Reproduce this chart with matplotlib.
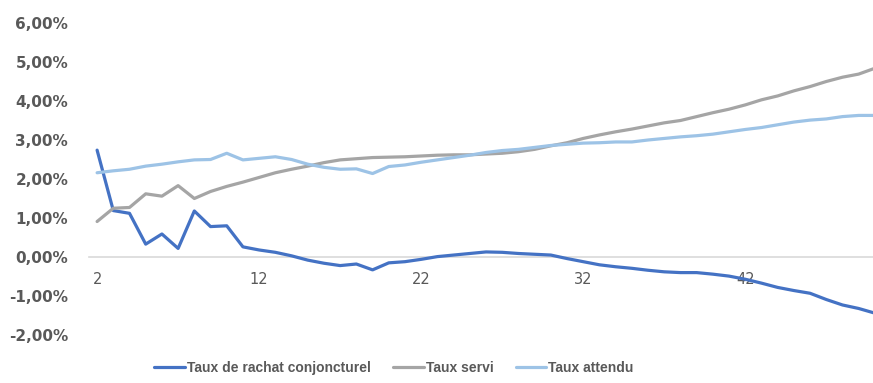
import matplotlib.pyplot as plt
import numpy as np

# horizon (categories)
annees = list(range(2, 51))

taux_rachat = [2.74, 1.19, 1.12, 0.33, 0.59, 0.22, 1.18, 0.78, 0.80, 0.26,
               0.18, 0.12, 0.03, -0.08, -0.16, -0.22, -0.18, -0.33, -0.15, -0.12,
               -0.06, 0.01, 0.05, 0.09, 0.13, 0.12, 0.09, 0.07, 0.05, -0.04,
               -0.12, -0.20, -0.25, -0.29, -0.34, -0.38, -0.40, -0.40, -0.44, -0.49,
               -0.57, -0.67, -0.78, -0.86, -0.93, -1.09, -1.23, -1.32, -1.44]

taux_servi = [0.91, 1.25, 1.27, 1.62, 1.56, 1.83, 1.50, 1.68, 1.81, 1.92,
              2.04, 2.16, 2.25, 2.33, 2.42, 2.49, 2.52, 2.55, 2.56, 2.57,
              2.59, 2.61, 2.62, 2.62, 2.64, 2.66, 2.70, 2.76, 2.85, 2.93,
              3.04, 3.13, 3.21, 3.28, 3.36, 3.44, 3.50, 3.60, 3.70, 3.79,
              3.90, 4.03, 4.13, 4.26, 4.37, 4.50, 4.61, 4.69, 4.84]

taux_attendu = [2.16, 2.21, 2.25, 2.33, 2.38, 2.44, 2.49, 2.50, 2.66, 2.49,
                2.53, 2.57, 2.50, 2.38, 2.30, 2.25, 2.26, 2.14, 2.32, 2.36,
                2.43, 2.49, 2.55, 2.61, 2.68, 2.73, 2.76, 2.81, 2.86, 2.89,
                2.92, 2.93, 2.95, 2.95, 3.00, 3.04, 3.08, 3.11, 3.15, 3.21,
                3.27, 3.32, 3.39, 3.46, 3.51, 3.54, 3.60, 3.63, 3.63]

labels = ['Taux de rachat conjoncturel', 'Taux servi', 'Taux attendu']
couleurs = ['#4472C4', '#A5A5A5', '#9DC3E6']
gris_txt = '#595959'

fig = plt.figure(figsize=(8.73, 3.83), dpi=100)
ax = fig.add_axes([89 / 873, 1 - 335 / 383, 794 / 873, 312 / 383])

ax.plot(annees, taux_rachat, color=couleurs[0], lw=2.3, label=labels[0], solid_capstyle='round')
ax.plot(annees, taux_servi, color=couleurs[1], lw=2.3, label=labels[1], solid_capstyle='round')
ax.plot(annees, taux_attendu, color=couleurs[2], lw=2.3, label=labels[2], solid_capstyle='round')

ax.set_xlim(1.5, 50.5)
ax.set_ylim(-2, 6)

# axe horizontal qui croise a 0
for s in ['top', 'right', 'left']:
    ax.spines[s].set_visible(False)
ax.spines['bottom'].set_position(('data', 0))
ax.spines['bottom'].set_color('#D9D9D9')
ax.spines['bottom'].set_linewidth(1.2)
ax.spines['bottom'].set_zorder(0)

ax.set_xticks(annees[::10])
ax.set_xticklabels([str(a) for a in annees[::10]])
ax.tick_params(axis='x', length=0, pad=11, labelsize=10.5, labelcolor=gris_txt)

yt = np.arange(-2, 7, 1)
ax.set_yticks(yt)
ax.set_yticklabels(['{:.2f}%'.format(v).replace('.', ',') for v in yt],
                   fontweight='bold', fontsize=11)
ax.tick_params(axis='y', length=0, pad=15, labelcolor=gris_txt)

leg = fig.legend(loc='center', bbox_to_anchor=(394 / 873, 1 - 368 / 383), ncol=3,
                 frameon=False, handlelength=2.2, handletextpad=0.15, columnspacing=1.6,
                 prop={'family': 'Liberation Sans', 'weight': 'bold', 'size': 10})
for t in leg.get_texts():
    t.set_color(gris_txt)

fig.savefig('out.png', dpi=100)
